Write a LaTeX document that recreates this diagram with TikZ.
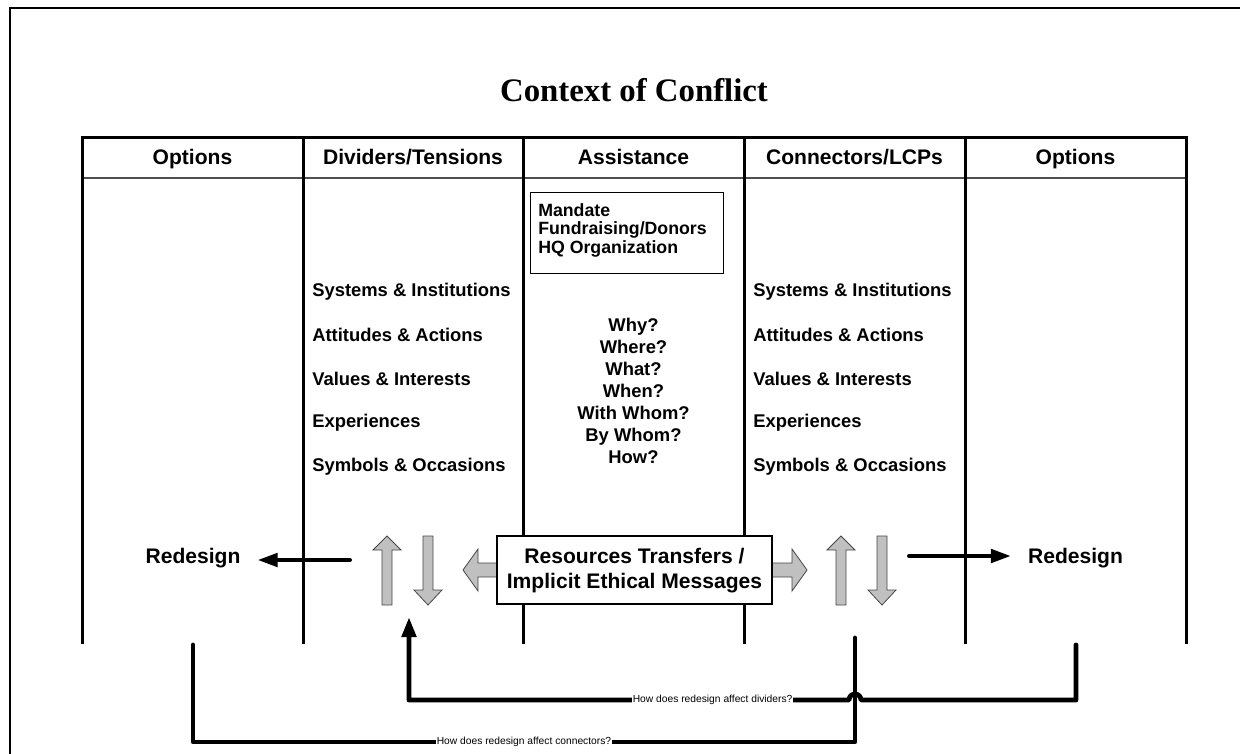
\documentclass[tikz,border=0pt]{standalone}
\usepackage{fontspec}
\setmainfont{Liberation Serif}
\setsansfont{Liberation Sans}
\usetikzlibrary{arrows.meta}

\tikzset{
  colline/.style={line width=2.25, line cap=rect},
  feedback/.style={line width=3.6, line cap=round, line join=round},
  redesignarrow/.style={line width=3, line cap=round, -{Triangle[length=15pt,width=10pt]}, shorten >=12pt},
  blockarrow/.style={fill={rgb, 255:red, 192; green, 192; blue, 192}, draw={rgb, 255:red, 70; green, 70; blue, 70}, line width=0.6},
  headtext/.style={font=\sffamily\bfseries\fontsize{15.8}{18.75}\selectfont, inner sep=0.75pt},
  listtext/.style={font=\sffamily\bfseries\fontsize{13.8}{16.5}\selectfont, inner sep=0.75pt},
  smalltext/.style={font=\sffamily\fontsize{7.7}{9}\selectfont, fill=white, inner sep=0.4pt},
}

\begin{document}
\begin{tikzpicture}[x=0.75pt,y=0.75pt,yscale=-1,xscale=1]
\useasboundingbox (0,0) rectangle (1240,754);

%Straight Lines: outer frame
\draw [line width=1.5] (10,754) -- (10,8) -- (1240,8) ;

% Text Node
\draw (634,90) node [font=\bfseries\fontsize{24.6}{29}\selectfont, inner sep=0.75pt] (title) {Context of Conflict};

%Straight Lines: table head
\draw [colline] (82,137) -- (1186,137) ;
\draw [color={rgb, 255:red, 80; green, 80; blue, 80 }, line width=0.9] (82,178) -- (1186,178) ;
%Straight Lines: columns
\draw [colline] (82,137) -- (82,642) ;
\draw [colline] (303,137) -- (303,642) ;
\draw [colline] (523,137) -- (523,642) ;
\draw [colline] (744,137) -- (744,642) ;
\draw [colline] (965,137) -- (965,642) ;
\draw [colline] (1186,137) -- (1186,642) ;

% Text Node
\draw (192.5,164) node [headtext, anchor=base] (hoptl) {Options};
% Text Node
\draw (413,164) node [headtext, anchor=base] (hdiv) {Dividers/Tensions};
% Text Node
\draw (633.5,164) node [headtext, anchor=base] (hasst) {Assistance};
% Text Node
\draw (854.5,164) node [headtext, anchor=base] (hconn) {Connectors/LCPs};
% Text Node
\draw (1075.5,164) node [headtext, anchor=base] (hoptr) {Options};

%Shape: Rectangle
\draw [line width=0.75] (530,192) -- (723,192) -- (723,273) -- (530,273) -- cycle ;
% Text Node
\draw (537,230) node [listtext, anchor=west, align=left, font=\sffamily\bfseries\fontsize{13.3}{13.9}\selectfont] (mandate) {Mandate\\Fundraising/Donors\\HQ Organization};

% Text Node
\draw (311,292) node [listtext, anchor=west] (div1) {Systems \& Institutions};
\draw (311,335) node [listtext, anchor=west] (div2) {Attitudes \& Actions};
\draw (311,379) node [listtext, anchor=west] (div3) {Values \& Interests};
\draw (311,423) node [listtext, anchor=west] (div4) {Experiences};
\draw (311,467) node [listtext, anchor=west] (div5) {Symbols \& Occasions};

% Text Node
\draw (752,292) node [listtext, anchor=west] (conn1) {Systems \& Institutions};
\draw (752,335) node [listtext, anchor=west] (conn2) {Attitudes \& Actions};
\draw (752,379) node [listtext, anchor=west] (conn3) {Values \& Interests};
\draw (752,423) node [listtext, anchor=west] (conn4) {Experiences};
\draw (752,467) node [listtext, anchor=west] (conn5) {Symbols \& Occasions};

% Text Node
\draw (633.5,391) node [listtext, align=center] (questions) {Why?\\Where?\\What?\\When?\\With Whom?\\By Whom?\\How?};

%Shape: Up Arrow
\draw [blockarrow] (382,605) -- (382,550) -- (373,550) -- (387,536) -- (401,550) -- (392,550) -- (392,605) -- cycle ;
%Shape: Down Arrow
\draw [blockarrow] (423,536) -- (433,536) -- (433,590) -- (442,590) -- (428,605) -- (414,590) -- (423,590) -- cycle ;
%Shape: Up Arrow
\draw [shift={(454,0)}, blockarrow] (382,605) -- (382,550) -- (373,550) -- (387,536) -- (401,550) -- (392,550) -- (392,605) -- cycle ;
%Shape: Down Arrow
\draw [shift={(454,0)}, blockarrow] (423,536) -- (433,536) -- (433,590) -- (442,590) -- (428,605) -- (414,590) -- (423,590) -- cycle ;
%Shape: Left Arrow
\draw [blockarrow] (500,563) -- (478,563) -- (478,549) -- (463,570) -- (478,591) -- (478,577) -- (500,577) -- cycle ;
%Shape: Right Arrow
\draw [blockarrow] (769,563) -- (792,563) -- (792,549) -- (807,570) -- (792,591) -- (792,577) -- (769,577) -- cycle ;

%Shape: Rectangle
\draw [fill=white, line width=0.9] (497,536) -- (772,536) -- (772,604) -- (497,604) -- cycle ;
% Text Node
\draw (634.5,570.5) node [headtext, align=center] (resources) {Resources Transfers /\\Implicit Ethical Messages};

% Text Node
\draw (193,558) node [headtext] (redesignl) {Redesign};
% Text Node
\draw (1075.5,558) node [headtext] (redesignr) {Redesign};

%Straight Lines: redesign arrows
\coordinate (dvout) at (350,560) ;
\coordinate (cnout) at (909,556) ;
\draw [redesignarrow] (dvout) -- (redesignl.east |- dvout) ;
\draw [redesignarrow] (cnout) -- (redesignr.west |- cnout) ;

%Straight Lines: feedback to dividers
\coordinate (optr) at (1076,645) ;
\coordinate (divtip) at (409,617) ;
\draw [feedback, -{Triangle[length=15pt,width=10.5pt]}] (optr) -- (1076,700) -- (861,700) arc [start angle=0, end angle=-180, radius=6] -- node [smalltext, pos=0.31] (qdiv) {How does redesign affect dividers?} (409,700) -- (divtip) ;

%Straight Lines: feedback to connectors
\coordinate (optl) at (193,645) ;
\coordinate (conntop) at (855,638) ;
\draw [feedback] (optl) -- (193,742) -- node [smalltext, pos=0.5] (qconn) {How does redesign affect connectors?} (855,742) -- (conntop) ;

\end{tikzpicture}
\end{document}
